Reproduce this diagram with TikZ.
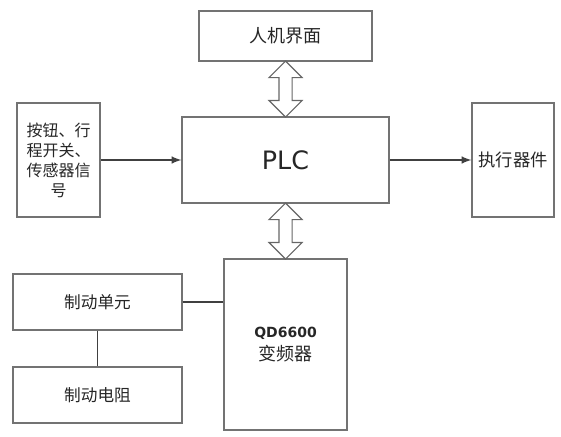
\documentclass[tikz,border=0pt]{standalone}
\usepackage{fontspec}
\setmainfont{Noto Sans CJK SC}
\newfontfamily\latinfont{DejaVu Sans}
\usetikzlibrary{shapes.arrows}

\begin{document}
\begin{tikzpicture}[
                x=0.75pt,y=-0.75pt,
                line width=0.8pt,
                box/.style={draw=black!55,align=center,text=black!85,inner sep=1pt},
                bus/.style={draw=black!60,double arrow,shape border rotate=90,minimum height=42pt,double arrow head extend=7.5pt,double arrow head indent=0pt,inner sep=4.5pt}] %

\useasboundingbox (0,0) rectangle (561,436);

                    % 1
                    \node[box,minimum width=129.75pt,minimum height=37.5pt,font=\fontsize{13.5}{15}\selectfont] (HMI) at (285.5,36) {人机界面};

                    % 2
                    \node[box,minimum width=155.25pt,minimum height=64.5pt,font=\latinfont\fontsize{19}{22}\selectfont] (PLC) at (285.5,160) {PLC};
                    \node[bus] (BUSA) at (285.5,89) {};

                    % 3
                    \node[box,minimum width=62.25pt,minimum height=85.5pt,font=\fontsize{12}{15}\selectfont] (IN) at (58.5,160) {按钮、行\\程开关、\\传感器信\\号};
                    \path [black!75, line width=1.5pt, -latex] (IN) edge (PLC);

                    % 4
                    \node[box,minimum width=61.5pt,minimum height=85.5pt,font=\fontsize{13}{15}\selectfont] (OUT) at (513,160) {执行器件};
                    \path [black!75, line width=1.5pt, -latex] (PLC) edge (OUT);

                    % 5
                    \node[box,minimum width=92.25pt,minimum height=128.25pt,font=\fontsize{13.5}{17}\selectfont] (QD) at (285.5,344.5) {{\latinfont\bfseries\fontsize{10.5}{13}\selectfont QD6600}\\变频器};
                    \node[bus] (BUSB) at (285.5,231) {};

                    % 6
                    \node[box,minimum width=126.75pt,minimum height=42pt,font=\fontsize{12.5}{13}\selectfont] (BU) at (97.5,302) {制动单元};
                    \draw [black!75] (BU.east) -- (BU.east -| QD.west);

                    % 7
                    \node[box,minimum width=126.75pt,minimum height=42pt,font=\fontsize{12.5}{13}\selectfont] (BR) at (97.5,395) {制动电阻};
                    \draw [black!75] (BU) -- (BR);


%%%%%%%%%%%%%%%%%%%%%%%%%%%%%%%%%%%%%%%%%%%%%%%%%%%%%%%%%%%%%%%%%%%%%%%%%%%%%%%%%%%%


\end{tikzpicture}
\end{document}
